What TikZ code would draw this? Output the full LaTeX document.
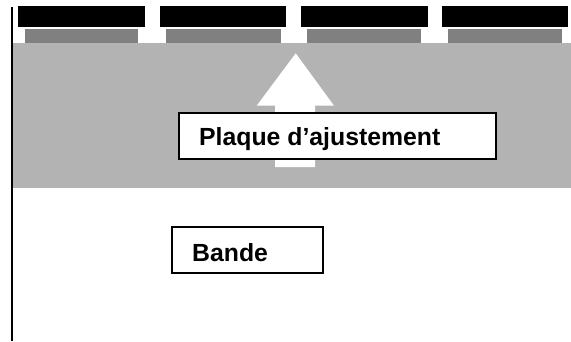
\documentclass[tikz,border=0pt]{standalone}
\usepackage{fontspec}
\setmainfont{Liberation Sans}
\definecolor{plategray}{HTML}{B3B3B3}
\definecolor{pillgray}{HTML}{808080}
\tikzset{
  blackbar/.style={fill=black, draw=none},
  greybar/.style={fill=pillgray, draw=none},
  labelbox/.style={draw=black, line width=1.3pt, fill=white},
  labeltext/.style={font=\fontsize{24.8}{28}\selectfont\bfseries, inner sep=0pt, anchor=base west}
}
\begin{document}
\begin{tikzpicture}[x=1pt,y=-1pt]
  \useasboundingbox (0,0) rectangle (571,341);
  % adjustment plate
  \fill[plategray] (12.5,43) rectangle (571,188);
  % black elements on top
  \foreach \a/\b in {18/145, 160/286, 301/428, 442/568}
    \fill[blackbar] (\a,6) rectangle (\b,27);
  % grey pads below them
  \foreach \a/\b in {25/138, 166/281, 307/421, 448/562}
    \fill[greybar] (\a,29) rectangle (\b,43);
  % white upward arrow
  \fill[white] (275,167) -- (275,105.7) -- (256.7,105.7) -- (295.7,53.3)
    -- (334,105.7) -- (315,105.7) -- (315,167) -- cycle;
  % left boundary line
  \draw[line width=2pt] (11.5,7) -- (11.5,341);
  % labels
  \draw[labelbox] (179,113) rectangle (496,159);
  \node[labeltext] (plaque) at (199,145.7) {Plaque d’ajustement};
  \draw[labelbox] (172,227) rectangle (323,273);
  \node[labeltext] (bande) at (192,261) {Bande};
\end{tikzpicture}
\end{document}
